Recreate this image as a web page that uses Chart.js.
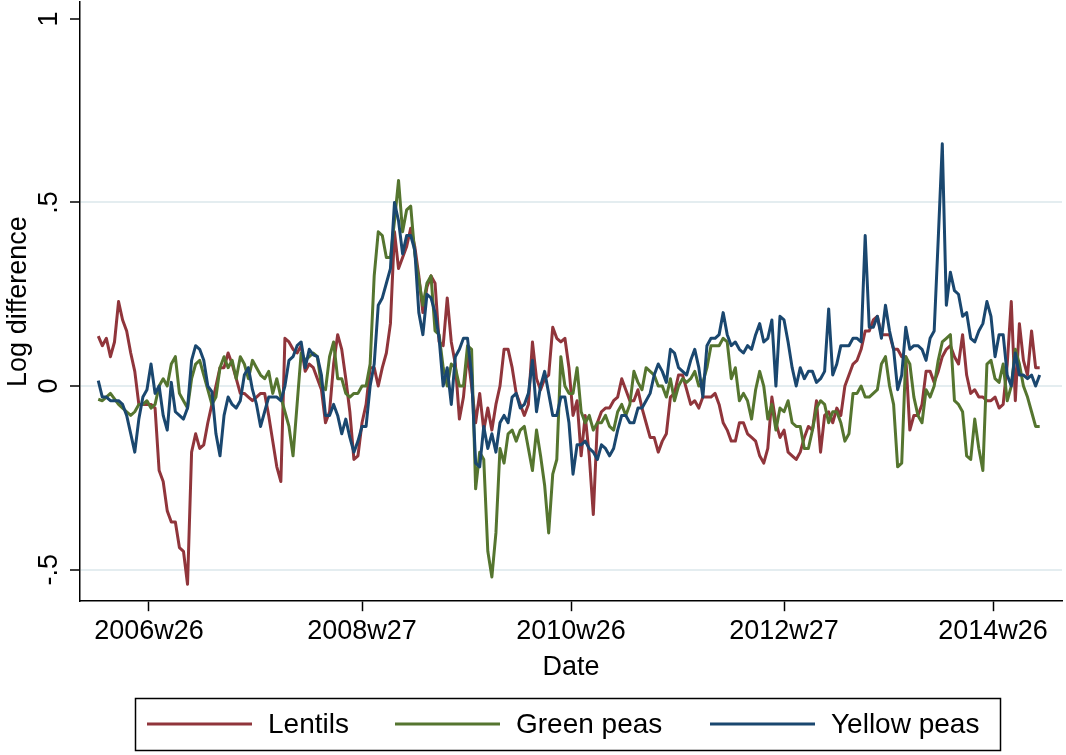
<!DOCTYPE html>
<html>
<head>
<meta charset="utf-8">
<title>Log difference - pulses</title>
<script src="https://cdn.jsdelivr.net/npm/chart.js@4.4.0/dist/chart.umd.min.js"></script>
<style>
  html, body { margin: 0; padding: 0; background: #fff; }
  #wrap { width: 1066px; height: 755px; }
</style>
</head>
<body>
<div id="wrap"><canvas id="pulseChart" width="1066" height="755"></canvas></div>
<script>
// Stata weekly dates: week 0 = 2006w1, 52 weeks per year; one value every 2nd week
const weeks = [];
for (let w = 0; w <= 464; w += 2) weeks.push(w);

const tickWeeks = [25, 130, 233, 338, 441];
const tickLabels = ['2006w26', '2008w27', '2010w26', '2012w27', '2014w26'];
const yTicks = [-0.5, 0, 0.5, 1];
const yTickLabels = ['-.5', '0', '.5', '1'];

const lentils = [
  0.136, 0.11, 0.13, 0.08, 0.12, 0.23, 0.18, 0.15, 0.09, 0.04, -0.05, -0.05, -0.05, -0.05, -0.06, -0.23, -0.26, -0.34, -0.37, -0.37, -0.44, -0.45, -0.54,
  -0.18, -0.13, -0.17, -0.16, -0.1, -0.05, 0.0, 0.05, 0.05, 0.09, 0.06, 0.02, -0.02, -0.02, -0.03, -0.04, -0.03, -0.02, -0.02, -0.08, -0.15, -0.22, -0.26, 0.13,
  0.12, 0.1, 0.09, 0.11, 0.04, 0.06, 0.05, 0.02, -0.01, -0.1, -0.07, 0.06, 0.14, 0.1, 0.02, -0.07, -0.2, -0.19, -0.1, -0.05, 0.05, 0.05, 0.0,
  0.05, 0.09, 0.17, 0.42, 0.32, 0.35, 0.38, 0.43, 0.38, 0.3, 0.2, 0.27, 0.3, 0.28, 0.12, 0.11, 0.24, 0.12, 0.06, -0.09, -0.03, 0.09, 0.0,
  -0.1, -0.02, -0.12, -0.06, -0.12, -0.05, 0.0, 0.1, 0.1, 0.05, -0.02, -0.05, -0.08, -0.05, 0.12, 0.02, -0.01, 0.02, 0.03, 0.16, 0.13, 0.12, 0.13, 0.05,
  -0.08, -0.04, -0.19, -0.08, -0.19, -0.35, -0.1, -0.07, -0.06, -0.06, -0.04, -0.03, 0.02, -0.01, -0.04, -0.04, -0.01, -0.06, -0.1, -0.14, -0.14, -0.18, -0.15,
  -0.13, -0.03, -0.02, 0.03, 0.03, -0.01, -0.05, -0.04, -0.06, -0.03, -0.03, -0.03, -0.02, -0.05, -0.1, -0.12, -0.15, -0.15, -0.1, -0.1, -0.13, -0.14, -0.15, -0.19,
  -0.21, -0.17, -0.03, -0.1, -0.14, -0.12, -0.18, -0.19, -0.2, -0.18, -0.14, -0.11, -0.12, -0.04, -0.18, -0.08, -0.07, -0.1, -0.06, -0.08, 0.0, 0.03, 0.06,
  0.07, 0.1, 0.15, 0.15, 0.18, 0.19, 0.14, 0.14, 0.14, 0.1, 0.1, 0.08, 0.08, -0.12, -0.08, -0.08, -0.05, 0.04, 0.04, 0.01, 0.04, 0.08, 0.1,
  0.11, 0.08, 0.06, 0.14, 0.03, -0.02, -0.01, -0.03, -0.03, -0.04, -0.04, -0.03, -0.06, -0.05, 0.06, 0.23, -0.04, 0.17, 0.07, 0.03, 0.15, 0.05, 0.05
];

const greenPeas = [
  -0.036, -0.04, -0.03, -0.02, -0.035, -0.05, -0.06, -0.07, -0.08, -0.07, -0.05, -0.05, -0.04, -0.06, -0.05, 0.0, 0.02, 0.0, 0.06, 0.08, -0.02, -0.04, -0.06,
  0.02, 0.06, 0.07, 0.03, -0.01, -0.05, -0.03, 0.05, 0.08, 0.05, 0.07, 0.02, 0.08, 0.06, 0.02, 0.07, 0.05, 0.03, 0.02, 0.04, -0.02, 0.02, -0.03, -0.07,
  -0.11, -0.19, -0.05, 0.09, 0.07, 0.08, 0.09, 0.08, 0.0, -0.01, 0.08, 0.12, 0.02, 0.02, -0.02, -0.03, -0.02, -0.02, 0.0, 0.0, 0.06, 0.3, 0.42,
  0.41, 0.35, 0.35, 0.45, 0.56, 0.42, 0.48, 0.49, 0.36, 0.29, 0.22, 0.28, 0.3, 0.15, 0.14, 0.05, 0.0, 0.06, 0.05, 0.0, 0.0, 0.11, 0.1,
  -0.28, -0.18, -0.2, -0.45, -0.52, -0.4, -0.17, -0.21, -0.13, -0.12, -0.15, -0.12, -0.11, -0.17, -0.23, -0.12, -0.19, -0.27, -0.4, -0.24, -0.2, 0.08, 0.0, -0.02,
  -0.02, 0.05, -0.07, -0.1, -0.08, -0.12, -0.1, -0.1, -0.08, -0.11, -0.12, -0.07, -0.05, -0.08, -0.05, 0.04, 0.01, -0.01, 0.05, 0.04, 0.03, 0.0, 0.0,
  -0.03, 0.02, -0.04, 0.0, 0.02, 0.01, 0.02, 0.04, 0.0, 0.01, 0.05, 0.11, 0.11, 0.11, 0.13, 0.12, 0.02, 0.05, -0.04, -0.02, -0.04, -0.09, -0.01, 0.04,
  0.0, -0.09, -0.05, -0.12, -0.06, -0.07, -0.04, -0.1, -0.11, -0.11, -0.17, -0.17, -0.12, -0.06, -0.04, -0.05, -0.1, -0.07, -0.07, -0.1, -0.15, -0.13, -0.02,
  -0.02, 0.0, -0.03, -0.03, -0.02, -0.01, 0.06, 0.08, 0.0, -0.05, -0.22, -0.21, 0.08, 0.06, -0.03, -0.08, -0.1, -0.01, -0.03, 0.0, 0.07, 0.12, 0.13,
  0.14, -0.04, -0.05, -0.07, -0.19, -0.2, -0.09, -0.17, -0.23, 0.06, 0.07, 0.02, 0.01, 0.06, -0.04, 0.0, 0.1, 0.06, 0.0, -0.03, -0.07, -0.11, -0.11
];

const yellowPeas = [
  0.015, -0.03, -0.03, -0.04, -0.04, -0.04, -0.05, -0.08, -0.13, -0.18, -0.09, -0.03, -0.01, 0.06, -0.02, 0.0, -0.08, -0.12, 0.01, -0.07, -0.08, -0.09, -0.06,
  0.07, 0.11, 0.1, 0.07, 0.0, -0.015, -0.13, -0.19, -0.08, -0.03, -0.05, -0.06, -0.04, 0.03, 0.05, -0.01, -0.05, -0.11, -0.07, -0.03, -0.03, -0.03, -0.04, 0.0,
  0.07, 0.08, 0.11, 0.12, 0.05, 0.1, 0.085, 0.08, 0.03, -0.08, -0.08, -0.05, -0.08, -0.13, -0.09, -0.14, -0.18, -0.15, -0.11, -0.11, 0.0, 0.06, 0.22,
  0.24, 0.28, 0.32, 0.5, 0.45, 0.36, 0.41, 0.41, 0.37, 0.2, 0.14, 0.25, 0.24, 0.2, 0.13, 0.0, 0.05, -0.05, 0.08, 0.1, 0.13, 0.13, 0.03,
  -0.21, -0.22, -0.11, -0.17, -0.13, -0.18, -0.1, -0.08, -0.1, -0.03, -0.02, -0.06, -0.05, -0.02, 0.07, -0.07, 0.0, 0.04, -0.02, -0.08, -0.08, -0.03, -0.03, -0.1,
  -0.24, -0.16, -0.16, -0.15, -0.17, -0.18, -0.2, -0.16, -0.17, -0.19, -0.17, -0.12, -0.08, -0.08, -0.1, -0.1, -0.06, -0.06, -0.04, -0.02, 0.03, 0.06, 0.04,
  0.01, 0.1, 0.09, 0.05, 0.04, 0.03, 0.07, 0.1, 0.05, -0.03, 0.11, 0.13, 0.13, 0.14, 0.2, 0.14, 0.11, 0.12, 0.1, 0.09, 0.11, 0.1, 0.14, 0.17,
  0.12, 0.13, 0.18, 0.0, 0.19, 0.18, 0.12, 0.05, 0.0, 0.05, 0.02, 0.04, 0.04, 0.01, 0.02, 0.04, 0.21, 0.03, 0.06, 0.11, 0.11, 0.11, 0.13,
  0.13, 0.12, 0.41, 0.16, 0.16, 0.19, 0.13, 0.22, 0.15, 0.1, -0.01, 0.03, 0.16, 0.1, 0.11, 0.11, 0.1, 0.07, 0.13, 0.15, 0.4, 0.66, 0.22,
  0.31, 0.26, 0.25, 0.19, 0.2, 0.13, 0.12, 0.15, 0.17, 0.23, 0.19, 0.08, 0.14, 0.14, 0.03, 0.0, 0.09, 0.03, 0.03, 0.02, 0.03, 0.0, 0.03
];

const FONT = "'Liberation Sans', Arial, Helvetica, sans-serif";
Chart.defaults.font.family = FONT;
Chart.defaults.color = '#000';

function toPoints(vals) {
  return vals.map((v, i) => ({ x: weeks[i], y: v }));
}

// y tick labels (rotated, Stata style), y title and the boxed legend
const stataExtras = {
  id: 'stataExtras',
  beforeDraw(chart) {
    const ctx = chart.ctx;
    ctx.save();
    ctx.fillStyle = '#fff';
    ctx.fillRect(0, 0, chart.width, chart.height);
    ctx.restore();
  },
  afterDraw(chart) {
    const { ctx, chartArea } = chart;
    const y = chart.scales.y;
    ctx.save();
    ctx.fillStyle = '#000';
    ctx.font = '27px ' + FONT;
    ctx.textAlign = 'center';
    ctx.textBaseline = 'middle';
    yTicks.forEach((v, i) => {
      ctx.save();
      ctx.translate(50, y.getPixelForValue(v));
      ctx.rotate(-Math.PI / 2);
      ctx.fillText(yTickLabels[i], 0, 0);
      ctx.restore();
    });
    ctx.save();
    ctx.translate(19, (chartArea.top + chartArea.bottom) / 2);
    ctx.rotate(-Math.PI / 2);
    ctx.fillText('Log difference', 0, 0);
    ctx.restore();

    // legend box
    ctx.strokeStyle = '#000';
    ctx.lineWidth = 1.5;
    ctx.strokeRect(135.5, 698.5, 865, 52);
    const slots = [147, 395, 710];
    ctx.font = '28px ' + FONT;
    ctx.textAlign = 'left';
    chart.data.datasets.forEach((ds, i) => {
      const x0 = slots[i];
      ctx.strokeStyle = ds.borderColor;
      ctx.lineWidth = 3;
      ctx.beginPath();
      ctx.moveTo(x0, 724);
      ctx.lineTo(x0 + 105, 724);
      ctx.stroke();
      ctx.fillText(ds.label, x0 + 121, 725);
    });
    ctx.restore();
  }
};

const ctx = document.getElementById('pulseChart');
new Chart(ctx, {
  type: 'line',
  data: {
    datasets: [
      { label: 'Lentils', data: toPoints(lentils), borderColor: '#90353b', order: 3 },
      { label: 'Green peas', data: toPoints(greenPeas), borderColor: '#55752f', order: 2 },
      { label: 'Yellow peas', data: toPoints(yellowPeas), borderColor: '#1a476f', order: 1 }
    ]
  },
  options: {
    responsive: false,
    animation: false,
    devicePixelRatio: 1,
    elements: {
      line: { borderWidth: 3, tension: 0, borderJoinStyle: 'round', fill: false },
      point: { radius: 0, hoverRadius: 0 }
    },
    layout: { padding: { top: 2, right: 4, bottom: 71, left: 0 } },
    plugins: {
      legend: { display: false },
      tooltip: { enabled: false }
    },
    scales: {
      x: {
        type: 'linear',
        min: -9,
        max: 475,
        afterBuildTicks: s => { s.ticks = tickWeeks.map(v => ({ value: v })); },
        ticks: {
          autoSkip: false,
          maxRotation: 0,
          padding: 4,
          font: { size: 27 },
          callback: v => tickLabels[tickWeeks.indexOf(v)] || ''
        },
        grid: { drawOnChartArea: false, tickLength: 10, tickColor: '#000', tickWidth: 1.5 },
        border: { color: '#000', width: 1.5 },
        title: { display: true, text: 'Date', font: { size: 27 }, padding: { top: 0, bottom: 0 } }
      },
      y: {
        min: -0.586,
        max: 1.046,
        afterBuildTicks: s => { s.ticks = yTicks.map(v => ({ value: v })); },
        afterFit: s => { s.width = 80; },
        ticks: { display: false },
        grid: {
          color: c => (c.tick && c.tick.value === 1) ? 'rgba(0,0,0,0)' : '#e4edf0',
          lineWidth: 2,
          tickLength: 10,
          tickColor: '#000',
          tickWidth: 1.5
        },
        border: { color: '#000', width: 1.5 }
      }
    }
  },
  plugins: [stataExtras]
});
</script>
</body>
</html>
